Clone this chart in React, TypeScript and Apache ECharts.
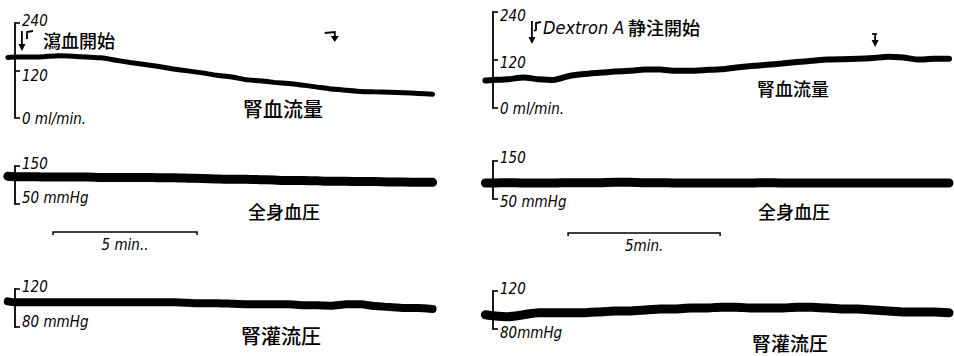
import React, { useEffect, useRef } from "react";
import * as echarts from "echarts";

// ---- time (minutes) ----
const leftTimes = [-0.25, 0, 0.5, 1, 1.5, 2, 2.5, 3, 3.5, 4, 4.5, 5, 5.5, 6, 6.5, 7, 7.5, 8, 8.5, 9, 9.5, 10, 10.5, 11, 11.5, 12, 12.5, 13, 13.5, 14, 14.5];
const rightTimes = [-0.25, 0, 0.5, 1, 1.5, 2, 2.5, 3, 3.5, 4, 4.5, 5, 5.5, 6, 6.5, 7, 7.5, 8, 8.5, 9, 9.5, 10, 10.5, 11, 11.5, 12, 12.5, 13, 13.5, 14, 14.5, 15];

// ---- left column: bleeding (瀉血) ----
const flowBleed = [153, 154, 154, 155, 157, 156, 154, 152, 146, 140, 135, 130, 124, 119, 114, 108, 104, 97, 94, 90, 87, 83, 78, 73, 70, 67, 66, 65, 64, 62, 60];
const bpBleed = [123, 122, 122, 121, 121, 121, 121, 120, 120, 120, 120, 119, 119, 118, 117, 116, 115, 115, 114, 113, 112, 112, 111, 110, 110, 109, 109, 108, 108, 107, 107];
const perfBleed = [107, 106, 106, 106, 106, 106, 106, 106, 106, 106, 106, 106, 106, 105.5, 105, 105, 104.5, 104, 104, 104, 104, 103, 103, 102.5, 104, 104, 102, 101, 100, 100, 99];

// ---- right column: Dextran A infusion ----
const flowDextran = [69, 70, 72, 76, 72, 70, 80, 85, 88, 91, 93, 96, 96, 93, 93, 95, 97, 101, 105, 108, 111, 115, 118, 121, 122, 123, 125, 128, 126, 121, 123, 123];
const bpDextran = [92, 92, 93, 92, 92, 92, 93, 93, 93, 94, 94, 93, 93, 92, 92, 92, 92, 92, 92, 93, 92, 92, 92, 92, 92, 92, 92, 92, 92, 92, 92, 92];
const perfDextran = [95, 94, 93, 95, 97, 97, 97, 97, 98, 99, 99, 100, 101, 101, 102, 102, 103, 103, 102, 102, 102, 103, 103, 102, 101, 101, 100, 99, 98, 98, 98, 97];

// ---- scale ticks & labels ----
const flowTicks = [0, 120, 240];
const flowTickLabels = ["0 ml/min.", "120", "240"];
const bpTicks = [50, 150];
const bpTickLabelsLeft = ["50 mmHg", "150"];
const bpTickLabelsRight = ["50 mmHg", "150"];
const perfTicks = [80, 120];
const perfTickLabelsLeft = ["80 mmHg", "120"];
const perfTickLabelsRight = ["80mmHg", "120"];

// ---- annotations ----
const traceTitles = ["腎血流量", "全身血圧", "腎灌流圧"];
const leftEventTimes = [0.24, 11.0];
const rightEventTimes = [1.28, 12.57];
const leftEventLabel = "瀉血開始";
const rightEventDrug = "Dextron A";
const rightEventLabel = "静注開始";
const scaleBarMinutes = 5;
const scaleBarStarts = [1.32, 2.47];
const scaleBarLabels = ["5 min..", "5min."];

const SCRIPT = "'Liberation Sans Narrow', 'DejaVu Sans Condensed', 'Liberation Sans', sans-serif";
const CJK = "'Noto Sans CJK JP', 'Noto Sans CJK SC', sans-serif";
const INK = "#000";

function yAxisFor(gridIndex: number, min: number, max: number, ticks: number[], labels: string[], shifts: number[], margin: number) {
  const rich: Record<string, any> = {};
  labels.forEach((_, i) => {
    const s = shifts[i];
    rich["s" + i] = {
      fontFamily: SCRIPT,
      fontStyle: "italic",
      fontSize: 15,
      color: INK,
      padding: s < 0 ? [0, 0, -2 * s, 0] : [2 * s, 0, 0, 0],
    };
  });
  return {
    type: "value",
    gridIndex,
    min,
    max,
    axisLine: { show: true, onZero: true, lineStyle: { color: INK, width: 1.8 } },
    axisTick: { show: true, inside: true, length: 5, customValues: ticks, lineStyle: { color: INK, width: 1.6 } },
    axisLabel: {
      show: true,
      inside: true,
      margin,
      customValues: ticks,
      showMinLabel: true,
      showMaxLabel: true,
      hideOverlap: false,
      fontFamily: SCRIPT,
      fontStyle: "italic",
      fontSize: 15,
      color: INK,
      rich,
      formatter: (v: number) => {
        const i = ticks.indexOf(v);
        return i < 0 ? "" : `{s${i}|${labels[i]}}`;
      },
    },
    splitLine: { show: false },
  };
}

function traceSeries(idx: number, times: number[], values: number[], width: number) {
  return {
    type: "line",
    xAxisIndex: idx,
    yAxisIndex: idx,
    data: times.map((t, k) => [t, values[k]]),
    showSymbol: false,
    symbol: "none",
    smooth: 0.15,
    silent: true,
    lineStyle: { color: INK, width, cap: "round", join: "round" },
  };
}

export default function App() {
  const ref = useRef<HTMLDivElement>(null);

  useEffect(() => {
    if (!ref.current) return;
    const chart = echarts.init(ref.current, null, { renderer: "svg" });

    // layout (pixels): left column t=0 at x=15 (28.8 px/min), right column t=0 at x=493 (30.4 px/min)
    const L = { min: -0.3, max: 14.7, left: 15 - 0.3 * 28.8, width: 15 * 28.8 };
    const R = { min: -0.3, max: 15.1, left: 493 - 0.3 * 30.4, width: 15.4 * 30.4 };
    const grids = [
      { left: L.left, width: L.width, top: 23, height: 95 },
      { left: L.left, width: L.width, top: 166, height: 38 },
      { left: L.left, width: L.width, top: 289, height: 38 },
      { left: R.left, width: R.width, top: 12, height: 96 },
      { left: R.left, width: R.width, top: 161, height: 38 },
      { left: R.left, width: R.width, top: 291, height: 38 },
    ].map((g) => ({ ...g, outerBoundsMode: "none", containLabel: false, show: false }));

    const xAxes = grids.map((_, i) => ({
      type: "value",
      gridIndex: i,
      min: i < 3 ? L.min : R.min,
      max: i < 3 ? L.max : R.max,
      show: false,
    }));

    const mL = 0.3 * 28.8 + 7;
    const mR = 0.3 * 30.4 + 7;
    const yAxes = [
      yAxisFor(0, 0, 240, flowTicks, flowTickLabels, [1, 5, -2], mL),
      yAxisFor(1, 50, 150, bpTicks, bpTickLabelsLeft, [-6, -2], mL),
      yAxisFor(2, 80, 120, perfTicks, perfTickLabelsLeft, [-5, -2], mL),
      yAxisFor(3, 0, 240, flowTicks, flowTickLabels, [1, 3, 4], mR),
      yAxisFor(4, 50, 150, bpTicks, bpTickLabelsRight, [3, -3], mR),
      yAxisFor(5, 80, 120, perfTicks, perfTickLabelsRight, [4, -2], mR),
    ];

    chart.setOption({
      animation: false,
      backgroundColor: "#fff",
      grid: grids,
      xAxis: xAxes,
      yAxis: yAxes,
      series: [
        traceSeries(0, leftTimes, flowBleed, 5),
        traceSeries(1, leftTimes, bpBleed, 9),
        traceSeries(2, leftTimes, perfBleed, 8),
        traceSeries(3, rightTimes, flowDextran, 6),
        traceSeries(4, rightTimes, bpDextran, 9),
        traceSeries(5, rightTimes, perfDextran, 9),
      ],
    });

    const px = (grid: number, t: number) => (chart.convertToPixel({ gridIndex: grid }, [t, 100]) as number[])[0];
    const stroke = { stroke: INK, lineWidth: 1.8, fill: "none" };
    const downArrow = (x: number, y1: number, y2: number) => [
      { type: "line", shape: { x1: x, y1, x2: x, y2: y2 - 3 }, style: stroke },
      { type: "polygon", shape: { points: [[x - 3.5, y2 - 7], [x + 3.5, y2 - 7], [x, y2]] }, style: { fill: INK } },
    ];
    const text = (x: number, y: number, s: string, fontSize: number, fontFamily: string, italic = false, align = "left", weight = "normal") => ({
      type: "text",
      x,
      y,
      style: { text: s, fontSize, fontFamily, fontStyle: italic ? "italic" : "normal", fontWeight: weight, fill: INK, align, verticalAlign: "middle" },
    });

    const g: any[] = [];
    // left: bleeding start arrow + bracket + label
    const le0 = px(0, leftEventTimes[0]);
    g.push(...downArrow(le0, 31, 51));
    g.push({ type: "polyline", shape: { points: [[33, 31], [27, 32], [27, 39]] }, style: stroke });
    g.push(text(43, 40, leftEventLabel, 18, CJK, false, "left", "500"));
    // left: second marker (↴)
    const le1 = px(0, leftEventTimes[1]);
    g.push({ type: "polyline", shape: { points: [[le1 - 7, 33], [le1 + 3, 32], [le1 + 3, 37]] }, style: stroke });
    g.push({ type: "polygon", shape: { points: [[le1 - 1, 36], [le1 + 7, 36], [le1 + 3, 42]] }, style: { fill: INK } });
    // right: dextran start arrow + bracket + label
    const re0 = px(3, rightEventTimes[0]);
    g.push(...downArrow(re0, 21, 44));
    g.push({ type: "polyline", shape: { points: [[541, 22], [536, 23], [536, 30], [534, 31]] }, style: stroke });
    g.push(text(543, 27, rightEventDrug, 18, SCRIPT, true));
    g.push(text(628, 27, rightEventLabel, 18, CJK, false, "left", "500"));
    // right: second arrow
    const re1 = px(3, rightEventTimes[1]);
    g.push({ type: "line", shape: { x1: re1 - 3, y1: 34, x2: re1 + 2, y2: 34 }, style: stroke });
    g.push(...downArrow(re1, 34, 47));

    // trace titles
    g.push(text(243, 108, traceTitles[0], 20, CJK, false, "left", "500"));
    g.push(text(248, 211, traceTitles[1], 18, CJK, false, "left", "500"));
    g.push(text(241, 335, traceTitles[2], 20, CJK, false, "left", "500"));
    g.push(text(757, 88, traceTitles[0], 18, CJK, false, "left", "500"));
    g.push(text(758, 211, traceTitles[1], 18, CJK, false, "left", "500"));
    g.push(text(752, 342, traceTitles[2], 19, CJK, false, "left", "500"));

    // 5-minute scale bars
    const bars = [
      { grid: 1, y: 232 },
      { grid: 4, y: 233 },
    ];
    bars.forEach((b, i) => {
      const x1 = px(b.grid, scaleBarStarts[i]);
      const x2 = px(b.grid, scaleBarStarts[i] + scaleBarMinutes);
      g.push({ type: "polyline", shape: { points: [[x1, b.y + 3], [x1, b.y], [x2, b.y], [x2, b.y + 3]] }, style: { stroke: INK, lineWidth: 1.5, fill: "none" } });
      g.push(text((x1 + x2) / 2, b.y + 13, scaleBarLabels[i], 15, SCRIPT, true, "center"));
    });

    chart.setOption({ graphic: { elements: g } });

    return () => chart.dispose();
  }, []);

  return <div ref={ref} style={{ position: "absolute", left: 0, top: 0, width: 954, height: 356 }} />;
}
